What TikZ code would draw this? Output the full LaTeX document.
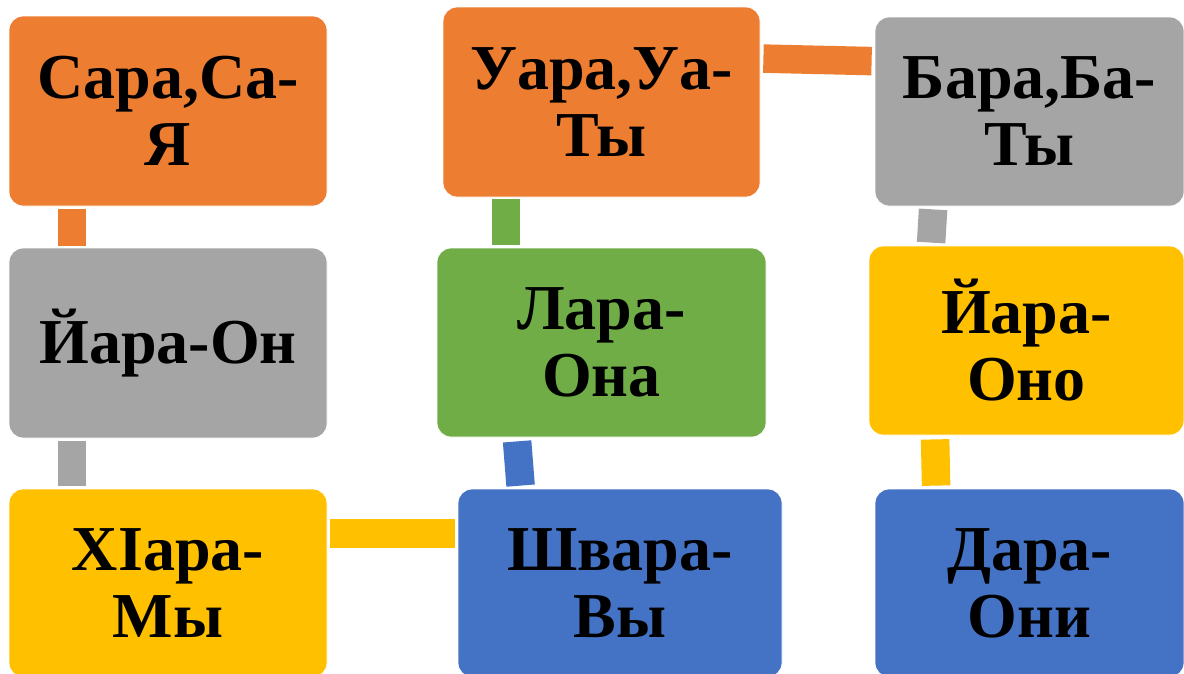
\documentclass[tikz,border=0pt]{standalone}
\usepackage{fontspec}
\setmainfont{Liberation Serif}
\usetikzlibrary{calc}
\definecolor{cOrange}{HTML}{ED7D31}
\definecolor{cGray}{HTML}{A5A5A5}
\definecolor{cYellow}{HTML}{FFC000}
\definecolor{cBlue}{HTML}{4472C4}
\definecolor{cGreen}{HTML}{70AD47}
\tikzset{
  box/.style={rectangle, rounded corners=14pt, draw=white, line width=0.8pt,
    inner sep=0pt, align=center, text=black,
    font=\fontsize{64}{67}\selectfont\bfseries},
  conn/.style={line width=28.5pt, line cap=butt, draw=#1}
}
\begin{document}
\begin{tikzpicture}[x=1pt,y=-1pt]
\clip (0,0) rectangle (1184,673);
\fill[white] (0,0) rectangle (1184,673);
% boxes
\node[box, fill=cOrange, minimum width=318pt, minimum height=190pt] (n1) at (168,111) {Сара,Са-\\Я};
\node[box, fill=cGray, minimum width=318pt, minimum height=190pt] (n2) at (168,343) {Йара-Он};
\node[box, fill=cYellow, minimum width=318pt, minimum height=188pt] (n3) at (168,583) {ХIара-\\Мы};
\node[box, fill=cOrange, minimum width=317pt, minimum height=190pt] (n4) at (601.5,102) {Уара,Уа-\\Ты};
\node[box, fill=cGreen, minimum width=329pt, minimum height=189pt] (n5) at (601.5,342.5) {Лара-\\Она};
\node[box, fill=cBlue, minimum width=324pt, minimum height=188pt] (n6) at (620,583) {Швара-\\Вы};
\node[box, fill=cGray, minimum width=309pt, minimum height=189pt] (n7) at (1029.5,111.5) {Бара,Ба-\\Ты};
\node[box, fill=cYellow, minimum width=315pt, minimum height=189pt] (n8) at (1026.5,340.5) {Йара-\\Оно};
\node[box, fill=cBlue, minimum width=309pt, minimum height=188pt] (n9) at (1029.5,583) {Дара-\\Они};
% connectors
\draw[conn=cOrange] ($(n1.south west)+(63.5,3)$) -- ($(n2.north west)+(63.5,-2)$);
\draw[conn=cGray] ($(n2.south west)+(63.5,3)$) -- ($(n3.north west)+(63.5,-3)$);
\draw[conn=cYellow] ($(n3.north east)+(3,45)$) -- ($(n6.north west)+(-3,45)$);
\draw[conn=cBlue] ($(n5.south west)+(80.5,4)$) -- ($(n6.north west)+(63,-3)$);
\draw[conn=cGreen] ($(n4.south west)+(63.5,2)$) -- ($(n5.north west)+(69.5,-3)$);
\draw[conn=cOrange] ($(n4.north east)+(3,52)$) -- ($(n7.north west)+(-3,44.5)$);
\draw[conn=cGray] ($(n7.south west)+(58.5,3)$) -- ($(n8.north west)+(62.5,-3)$);
\draw[conn=cYellow] ($(n8.south west)+(66.5,4)$) -- ($(n9.north west)+(61.5,-3)$);
\end{tikzpicture}
\end{document}
